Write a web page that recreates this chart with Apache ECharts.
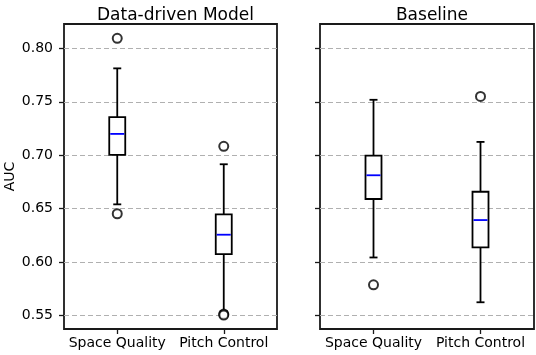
<!DOCTYPE html>
<html>
<head>
<meta charset="utf-8">
<script src="https://cdn.jsdelivr.net/npm/echarts@6/dist/echarts.min.js"></script>
<style>
  html, body { margin: 0; padding: 0; background: #fff; }
  #chart { width: 536px; height: 355px; }
</style>
</head>
<body>
<div id="chart"></div>
<script>
const categories = ["Space Quality", "Pitch Control"];
const yTicks = [0.55, 0.6, 0.65, 0.7, 0.75, 0.8];
// [category, lower whisker, Q1, median, Q3, upper whisker]
const modelBoxes = [
  [0, 0.6541, 0.7003, 0.7200, 0.7357, 0.7813],
  [1, 0.5541, 0.6075, 0.6257, 0.6448, 0.6916],
];
const baselineBoxes = [
  [0, 0.6044, 0.6591, 0.6813, 0.6997, 0.7519],
  [1, 0.5625, 0.6138, 0.6394, 0.6659, 0.7125],
];
const modelOutliers = [[0, 0.8094], [0, 0.6453], [1, 0.7084], [1, 0.5515], [1, 0.5505]];
const baselineOutliers = [[0, 0.5788], [1, 0.7550]];

const ink = "#1a1a1a";
const font = "DejaVu Sans";
const boxHalf = 8;
const capHalf = 4;
const lw = 1.8;

function renderBox(params, api) {
  const i = api.value(0);
  const [lo, q1, med, q3, hi] = [1, 2, 3, 4, 5].map((k) => api.coord([i, api.value(k)]));
  const cx = lo[0];
  const line = (x1, y1, x2, y2, color) => ({
    type: "line",
    shape: { x1, y1, x2, y2 },
    style: { stroke: color || "#000", lineWidth: lw },
  });
  return {
    type: "group",
    children: [
      line(cx, hi[1], cx, q3[1]),
      line(cx, q1[1], cx, lo[1]),
      line(cx - capHalf, hi[1], cx + capHalf, hi[1]),
      line(cx - capHalf, lo[1], cx + capHalf, lo[1]),
      {
        type: "rect",
        shape: { x: cx - boxHalf, y: q3[1], width: boxHalf * 2, height: q1[1] - q3[1] },
        style: { fill: "none", stroke: "#000", lineWidth: lw },
      },
      line(cx - boxHalf + 1, med[1], cx + boxHalf - 1, med[1], "#0000ff"),
    ],
  };
}

function yAxisFor(gridIndex, showLabels) {
  return {
    type: "value",
    gridIndex,
    min: 0.5375,
    max: 0.8228,
    name: showLabels ? "AUC" : "",
    nameLocation: "middle",
    nameGap: 47,
    nameTextStyle: { color: "#000", fontSize: 14, fontFamily: font },
    axisLine: { show: false },
    axisTick: { show: true, length: 5, customValues: yTicks, lineStyle: { color: ink, width: 1.3 } },
    axisLabel: {
      show: showLabels,
      customValues: yTicks,
      color: "#000",
      fontSize: 14,
      fontFamily: font,
      margin: 11,
      formatter: (v) => v.toFixed(2),
    },
    splitLine: { show: true, lineStyle: { color: "#b0b0b0", type: [5, 3], width: 1.2 } },
  };
}

function xAxisFor(gridIndex) {
  return {
    type: "category",
    gridIndex,
    data: categories,
    axisLine: { show: false },
    axisTick: { show: true, alignWithLabel: true, length: 5, lineStyle: { color: ink, width: 1.3 } },
    axisLabel: { interval: 0, color: "#000", fontSize: 14, fontFamily: font, margin: 7 },
    splitLine: { show: false },
  };
}

const chart = echarts.init(document.getElementById("chart"));
chart.setOption({
  backgroundColor: "#fff",
  animation: false,
  title: [
    { text: "Data-driven Model", left: 170.5, top: 2, textAlign: "center",
      textStyle: { fontSize: 17, fontWeight: "normal", color: "#000", fontFamily: font } },
    { text: "Baseline", left: 427, top: 2, textAlign: "center",
      textStyle: { fontSize: 17, fontWeight: "normal", color: "#000", fontFamily: font } },
  ],
  grid: [
    { left: 64, right: 259, top: 24, bottom: 26, show: true, borderColor: ink, borderWidth: 1.8 },
    { left: 320, right: 2, top: 24, bottom: 26, show: true, borderColor: ink, borderWidth: 1.8 },
  ],
  xAxis: [xAxisFor(0), xAxisFor(1)],
  yAxis: [yAxisFor(0, true), yAxisFor(1, false)],
  series: [
    { type: "custom", xAxisIndex: 0, yAxisIndex: 0, renderItem: renderBox,
      encode: { x: 0, y: [1, 2, 3, 4, 5] }, data: modelBoxes, z: 3 },
    { type: "custom", xAxisIndex: 1, yAxisIndex: 1, renderItem: renderBox,
      encode: { x: 0, y: [1, 2, 3, 4, 5] }, data: baselineBoxes, z: 3 },
    { type: "scatter", xAxisIndex: 0, yAxisIndex: 0, symbol: "emptyCircle", symbolSize: 9,
      itemStyle: { color: "#000", borderColor: "#000", borderWidth: 1.8 }, data: modelOutliers, z: 4 },
    { type: "scatter", xAxisIndex: 1, yAxisIndex: 1, symbol: "emptyCircle", symbolSize: 9,
      itemStyle: { color: "#000", borderColor: "#000", borderWidth: 1.8 }, data: baselineOutliers, z: 4 },
  ],
});
</script>
</body>
</html>
